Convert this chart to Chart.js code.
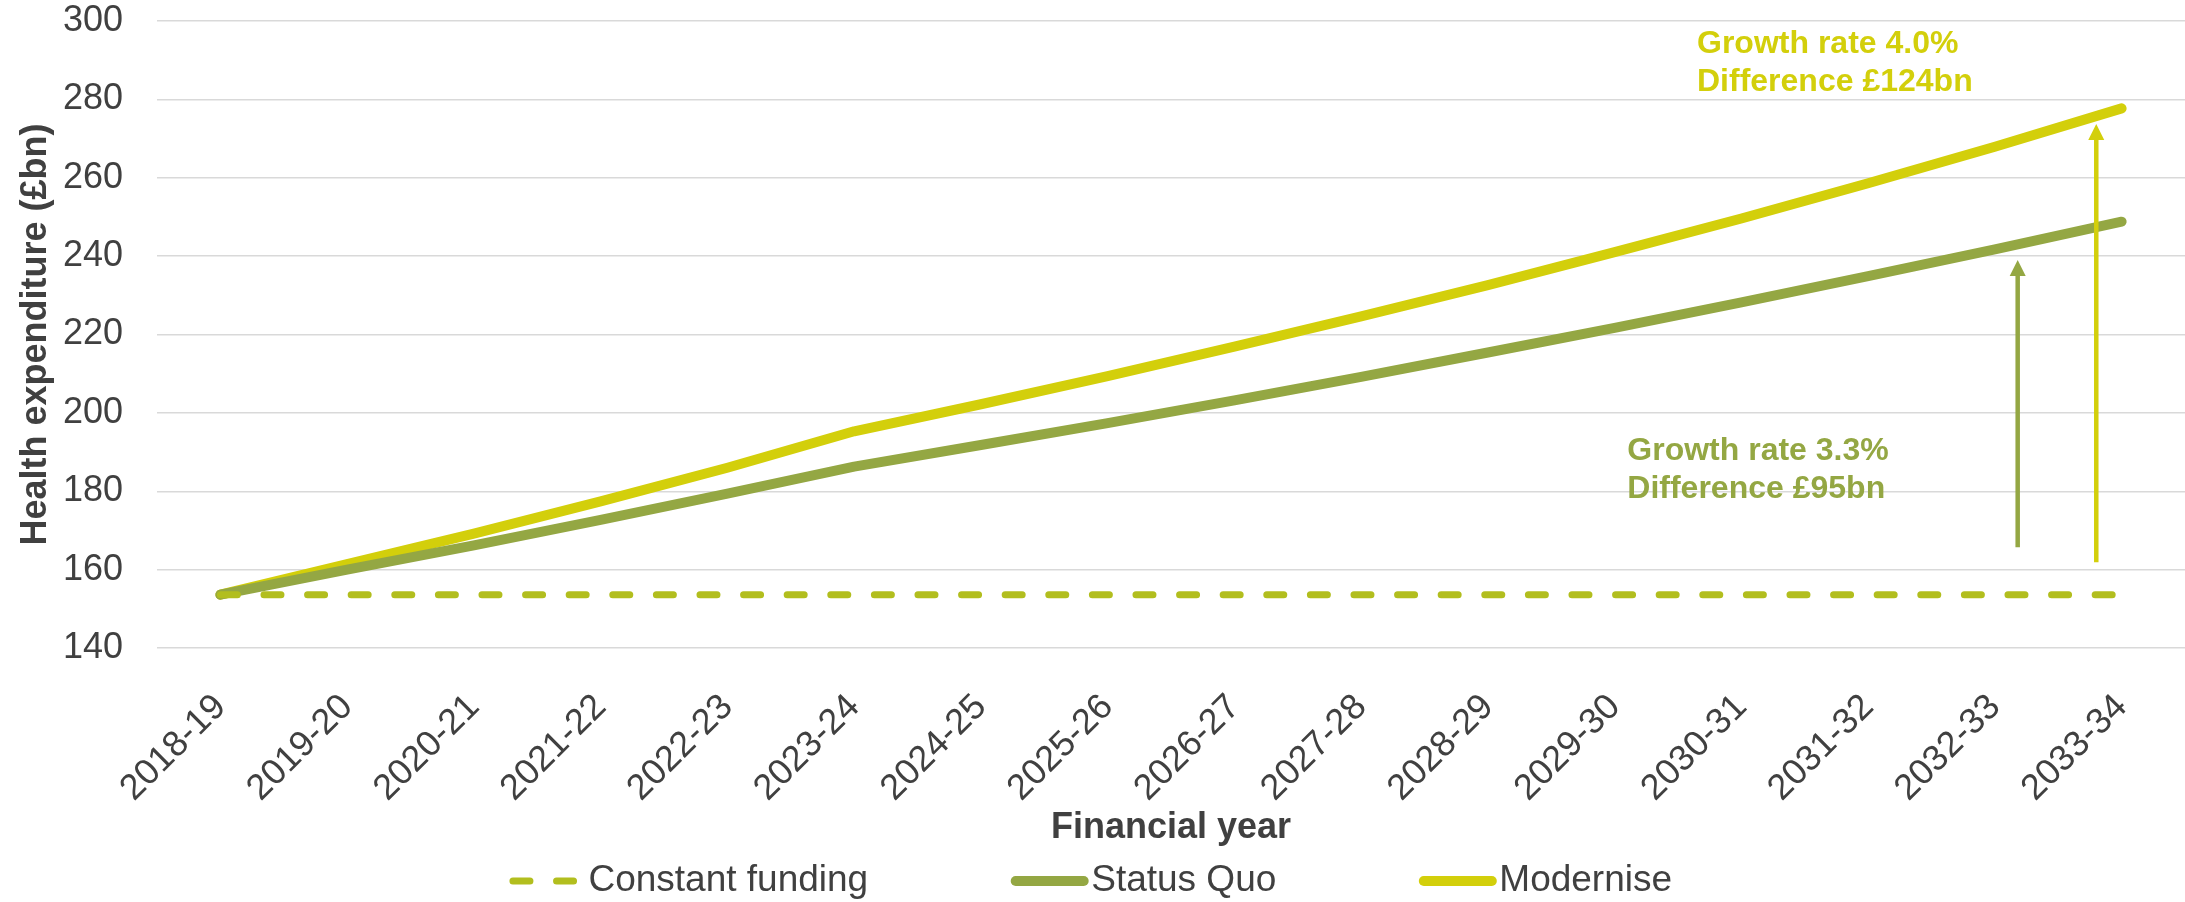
<!DOCTYPE html>
<html>
<head>
<meta charset="utf-8">
<title>Health expenditure projections</title>
<script src="https://cdn.jsdelivr.net/npm/chart.js@4.4.1/dist/chart.umd.min.js"></script>
<style>
  html, body { margin: 0; padding: 0; background: #fff; overflow: hidden; }
</style>
</head>
<body>
<canvas id="spendChart" width="2185" height="902"></canvas>
<script>
const years = ['2018-19', '2019-20', '2020-21', '2021-22', '2022-23', '2023-24', '2024-25', '2025-26',
               '2026-27', '2027-28', '2028-29', '2029-30', '2030-31', '2031-32', '2032-33', '2033-34'];

const constantFunding = [153.6, 153.6, 153.6, 153.6, 153.6, 153.6, 153.6, 153.6,
                         153.6, 153.6, 153.6, 153.6, 153.6, 153.6, 153.6, 153.6];
const statusQuo = [153.6, 160.0, 166.2, 172.7, 179.4, 186.3, 191.8, 197.4,
                   203.2, 209.2, 215.4, 221.7, 228.2, 234.9, 241.7, 248.8];
const modernise = [153.6, 161.4, 169.2, 177.4, 186.0, 195.3, 202.2, 209.4,
                   216.9, 224.6, 232.6, 241.0, 249.6, 258.6, 267.9, 277.7];

const yTicks = { min: 140, max: 300, step: 20 };

// growth callouts: arrow from/to in £bn, placed between the last two years
const arrowX    = [14.18, 14.8];
const arrowFrom = [165.7, 161.9];
const arrowTo   = [239.0, 273.7];
const noteText  = [['Growth rate 3.3%', 'Difference £95bn'], ['Growth rate 4.0%', 'Difference £124bn']];
const noteX     = [11.1, 11.65];
const noteY     = [187.9, 291.8];

const OLIVE  = '#94a743';
const YELLOW = '#d3cf0b';
const DASHED = '#b2be1e';
const INK    = '#404040';
const FAMILY = '"Liberation Sans", Arial, sans-serif';

const growthNotes = {
  id: 'growthNotes',
  afterDatasetsDraw(chart) {
    const { ctx, scales: { x, y } } = chart;
    const colors = [OLIVE, YELLOW];
    ctx.save();
    arrowX.forEach((xv, i) => {
      const px = x.getPixelForValue(xv);
      const top = y.getPixelForValue(arrowTo[i]);
      const bottom = y.getPixelForValue(arrowFrom[i]);
      const head = 16;
      ctx.strokeStyle = colors[i];
      ctx.fillStyle = colors[i];
      ctx.lineWidth = 4.5;
      ctx.beginPath();
      ctx.moveTo(px, bottom);
      ctx.lineTo(px, top + head - 1);
      ctx.stroke();
      ctx.beginPath();
      ctx.moveTo(px, top);
      ctx.lineTo(px - head / 2, top + head);
      ctx.lineTo(px + head / 2, top + head);
      ctx.closePath();
      ctx.fill();
    });

    ctx.font = 'bold 32px ' + FAMILY;
    ctx.textAlign = 'left';
    ctx.textBaseline = 'alphabetic';
    noteText.forEach((lines, i) => {
      const px = x.getPixelForValue(noteX[i]);
      const py = y.getPixelForValue(noteY[i]);
      ctx.fillStyle = colors[i];
      lines.forEach((t, j) => ctx.fillText(t, px, py + j * 38));
    });
    ctx.restore();
  }
};

// legend with line samples, centred under the axis title
const lineLegend = {
  id: 'lineLegend',
  afterDraw(chart) {
    const ctx = chart.ctx;
    const sampleW = 68, textGap = 7.5, itemGap = 147.5, cy = 881;
    ctx.save();
    ctx.font = '37px ' + FAMILY;
    const items = chart.data.datasets.map(ds => ({
      ds, w: sampleW + textGap + ctx.measureText(ds.label).width
    }));
    const total = items.reduce((s, it) => s + it.w, 0) + itemGap * (items.length - 1);
    let x = (chart.width - total) / 2;
    items.forEach(({ ds, w }) => {
      ctx.strokeStyle = ds.borderColor;
      ctx.lineWidth = ds.borderWidth;
      ctx.lineCap = 'round';
      ctx.setLineDash(ds.borderDash || []);
      ctx.beginPath();
      ctx.moveTo(x, cy);
      ctx.lineTo(x + sampleW, cy);
      ctx.stroke();
      ctx.setLineDash([]);
      ctx.fillStyle = INK;
      ctx.textAlign = 'left';
      ctx.textBaseline = 'middle';
      ctx.fillText(ds.label, x + sampleW + textGap, cy);
      x += w + itemGap;
    });
    ctx.restore();
  }
};

const ctx = document.getElementById('spendChart').getContext('2d');

new Chart(ctx, {
  type: 'line',
  data: {
    labels: years,
    datasets: [
      {
        label: 'Constant funding',
        data: constantFunding,
        borderColor: DASHED,
        borderWidth: 7,
        borderDash: [17, 26.6],
        borderCapStyle: 'round',
        pointRadius: 0,
        tension: 0,
        fill: false,
      },
      {
        label: 'Status Quo',
        data: statusQuo,
        borderColor: OLIVE,
        borderWidth: 10,
        borderCapStyle: 'round',
        borderJoinStyle: 'round',
        pointRadius: 0,
        tension: 0,
        fill: false,
      },
      {
        label: 'Modernise',
        data: modernise,
        borderColor: YELLOW,
        borderWidth: 10,
        borderCapStyle: 'round',
        borderJoinStyle: 'round',
        pointRadius: 0,
        tension: 0,
        fill: false,
      },
    ]
  },
  options: {
    responsive: false,
    animation: false,
    layout: { padding: { left: 0, top: 21, right: 0, bottom: 48 } },
    plugins: {
      legend: { display: false },
      tooltip: { enabled: false }
    },
    scales: {
      x: {
        offset: true,
        grid: { display: false },
        border: { display: false },
        ticks: {
          color: INK,
          font: { family: FAMILY, size: 36 },
          minRotation: 45,
          maxRotation: 45,
          autoSkip: false,
          padding: 30
        },
        title: {
          display: true,
          text: 'Financial year',
          color: INK,
          font: { family: FAMILY, size: 36, weight: 'bold' },
          padding: { top: 4, bottom: 4 }
        },
        afterFit: s => { s.height = 206; }
      },
      y: {
        min: yTicks.min,
        max: yTicks.max,
        grid: { color: '#d9d9d9', lineWidth: 1.5, drawTicks: false },
        border: { display: false },
        ticks: {
          stepSize: yTicks.step,
          color: INK,
          font: { family: FAMILY, size: 36 },
          padding: 34
        },
        title: {
          display: true,
          text: 'Health expenditure (£bn)',
          color: INK,
          font: { family: FAMILY, size: 36, weight: 'bold' },
          padding: { top: 14, bottom: 0 }
        },
        // fixed axis width; tick padding should not push the plot top down
        afterFit: s => {
          s.width = 157;
          s.paddingTop = 0;
          s.paddingBottom = 0;
        }
      }
    }
  },
  plugins: [growthNotes, lineLegend]
});
</script>
</body>
</html>
